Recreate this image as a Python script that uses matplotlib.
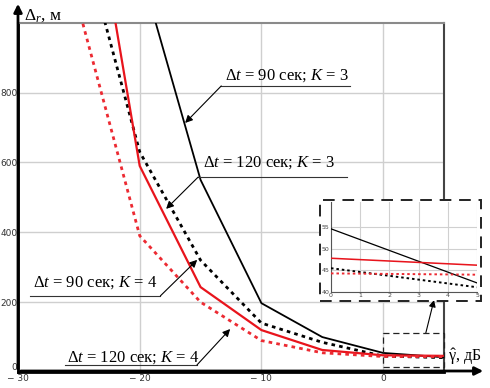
import numpy as np
import matplotlib
matplotlib.use("Agg")
import matplotlib.pyplot as plt
from matplotlib.patches import Rectangle, FancyArrowPatch

plt.rcParams['mathtext.fontset'] = 'custom'
plt.rcParams['mathtext.rm'] = 'Liberation Serif'
plt.rcParams['mathtext.it'] = 'Liberation Serif:italic'

# SNR, dB
gamma_db = [-25, -20, -15, -10, -5, 0, 5]

# range error, m
err_90_k3 = [1800, 1160, 550, 197, 100, 54.6, 42.1]
err_120_k3 = [1280, 630, 320, 140, 85, 45.5, 41.1]
err_90_k4 = [1620, 590, 243, 120, 63, 47.8, 46.2]
err_120_k4 = [1040, 390, 200, 90, 55, 44.3, 44.0]

x_ticks = [-30, -20, -10, 0]
x_ticklabels = ['− 30', '− 20', '− 10', '0']
y_ticks = [0, 200, 400, 600, 800]
inset_xticks = [0, 1, 2, 3, 4, 5]
inset_yticks = [40, 45, 50, 55]

series = [
    (err_90_k3, 'black', '-', 1.3),
    (err_120_k3, 'black', (0, (1.3, 1.5)), 2.0),
    (err_90_k4, '#e8141c', '-', 1.6),
    (err_120_k4, '#ec2a32', (0, (1.3, 1.5)), 2.0),
]

W, H = 490, 388
fig = plt.figure(figsize=(W / 100, H / 100), dpi=100)


def fig_rect(x0, y0, x1, y1):
    # pixel box (top-left origin) -> figure fraction
    return [x0 / W, 1 - y1 / H, (x1 - x0) / W, (y1 - y0) / H]


ax = fig.add_axes(fig_rect(18, 22.7, 444, 372))
for vals, c, ls, lw in series:
    ax.plot(gamma_db, vals, color=c, linestyle=ls, linewidth=lw, zorder=3)

ax.set_xlim(-30, 5)
ax.set_ylim(0, 1000)
ax.set_xticks(x_ticks)
ax.set_xticklabels(x_ticklabels)
ax.set_yticks(y_ticks)
ax.tick_params(length=0, labelsize=6.5, colors='#333333', pad=1.5)
ax.tick_params(axis='y', pad=0.5)
ax.grid(True, color='#cfcfcf', linewidth=1)
ax.set_axisbelow(True)
ax.spines['left'].set_linewidth(2)
ax.spines['left'].set_color('black')
ax.spines['bottom'].set_linewidth(2)
ax.spines['bottom'].set_color('black')
ax.spines['top'].set_color('#8a8a8a')
ax.spines['top'].set_linewidth(1.5)
ax.spines['right'].set_color('#444444')
ax.spines['right'].set_linewidth(1.5)
for lbl in ax.get_yticklabels():
    if lbl.get_text() == '0':
        lbl.set_verticalalignment('bottom')

# axis arrows
fig.add_artist(FancyArrowPatch(
    (18 / W, 1 - 372 / H), (18 / W, 1 - 1 / H), transform=fig.transFigure,
    arrowstyle='-|>', mutation_scale=12, linewidth=2, color='black'))
fig.add_artist(FancyArrowPatch(
    (18 / W, 1 - 371 / H), (486 / W, 1 - 371 / H), transform=fig.transFigure,
    arrowstyle='-|>', mutation_scale=12, linewidth=2, color='black'))

fig.text(24 / W, 1 - 20 / H, r'Δ$_r$, м', fontsize=12.5, family='Liberation Serif',
         ha='left', va='baseline')
fig.text(448 / W, 1 - 361 / H, r'$\hat{\mathrm{\gamma}}$, дБ', fontsize=11.5,
         family='Liberation Serif', ha='left', va='baseline')

# labels: text, text left x, baseline y, underline y, underline x-range, arrow tip
labels = [
    ('Δ$t$ = 90 сек; $K$ = 3', -13.0, 836, 819, (-13.3, -2.7), (-16.27, 713)),
    ('Δ$t$ = 120 сек; $K$ = 3', -14.8, 587, 558, (-15.2, -3.0), (-17.83, 467)),
    ('Δ$t$ = 90 сек; $K$ = 4', -28.8, 243, 218, (-29.0, -18.3), (-15.28, 321)),
    ('Δ$t$ = 120 сек; $K$ = 4', -26.0, 31, 20, (-26.1, -15.3), (-12.57, 123)),
]
for txt, tx, ty, uy, (ux0, ux1), tip in labels:
    ax.text(tx, ty, txt, fontsize=12, family='Liberation Serif',
            ha='left', va='baseline', zorder=5)
    ax.plot([ux0, ux1], [uy, uy], color='#333333', linewidth=0.8, clip_on=False, zorder=5)
    start = (ux1, uy) if tip[0] > ux1 else (ux0, uy)
    ax.annotate('', xy=tip, xytext=start,
                arrowprops=dict(arrowstyle='-|>', color='black', linewidth=0.8,
                                mutation_scale=11, shrinkA=0, shrinkB=0), zorder=5)

# zoom region
ax.add_patch(Rectangle((0, 14), 5, 97, fill=False, edgecolor='#222222',
                       linestyle=(0, (5, 3)), linewidth=0.9, clip_on=False, zorder=4))
ax.annotate('', xy=(434, H - 300), xycoords='figure pixels',
            xytext=(3.5, 111), textcoords='data',
            arrowprops=dict(arrowstyle='-|>', color='black', linewidth=0.8,
                            mutation_scale=10, shrinkA=0, shrinkB=0))

# inset
bg = Rectangle((320 / W, 1 - 301 / H), 161 / W, 101 / H, transform=fig.transFigure,
               facecolor='white', edgecolor='none', zorder=1.5)
fig.add_artist(bg)
fig.add_artist(Rectangle((320 / W, 1 - 301 / H), 161 / W, 101 / H, transform=fig.transFigure,
                         fill=False, edgecolor='#222222', linestyle=(0, (6, 4)),
                         linewidth=1.4, zorder=2))
axi = fig.add_axes(fig_rect(331, 202, 477, 292))
axi.set_zorder(10)
axi.patch.set_alpha(0)
for vals, c, ls, lw in series:
    axi.plot(gamma_db[-2:], vals[-2:], color=c, linestyle=ls,
             linewidth=lw * 0.7, zorder=3)
axi.set_xlim(0, 5)
axi.set_ylim(40, 60.8)
axi.set_xticks(inset_xticks)
axi.set_yticks(inset_yticks)
axi.tick_params(length=0, labelsize=4.5, colors='#444444', pad=1)
axi.grid(True, color='#d0d0d0', linewidth=0.8)
axi.spines['top'].set_visible(False)
axi.spines['right'].set_visible(False)
axi.spines['left'].set_color('#555555')
axi.spines['bottom'].set_color('#555555')

fig.savefig('out.png', dpi=100)
